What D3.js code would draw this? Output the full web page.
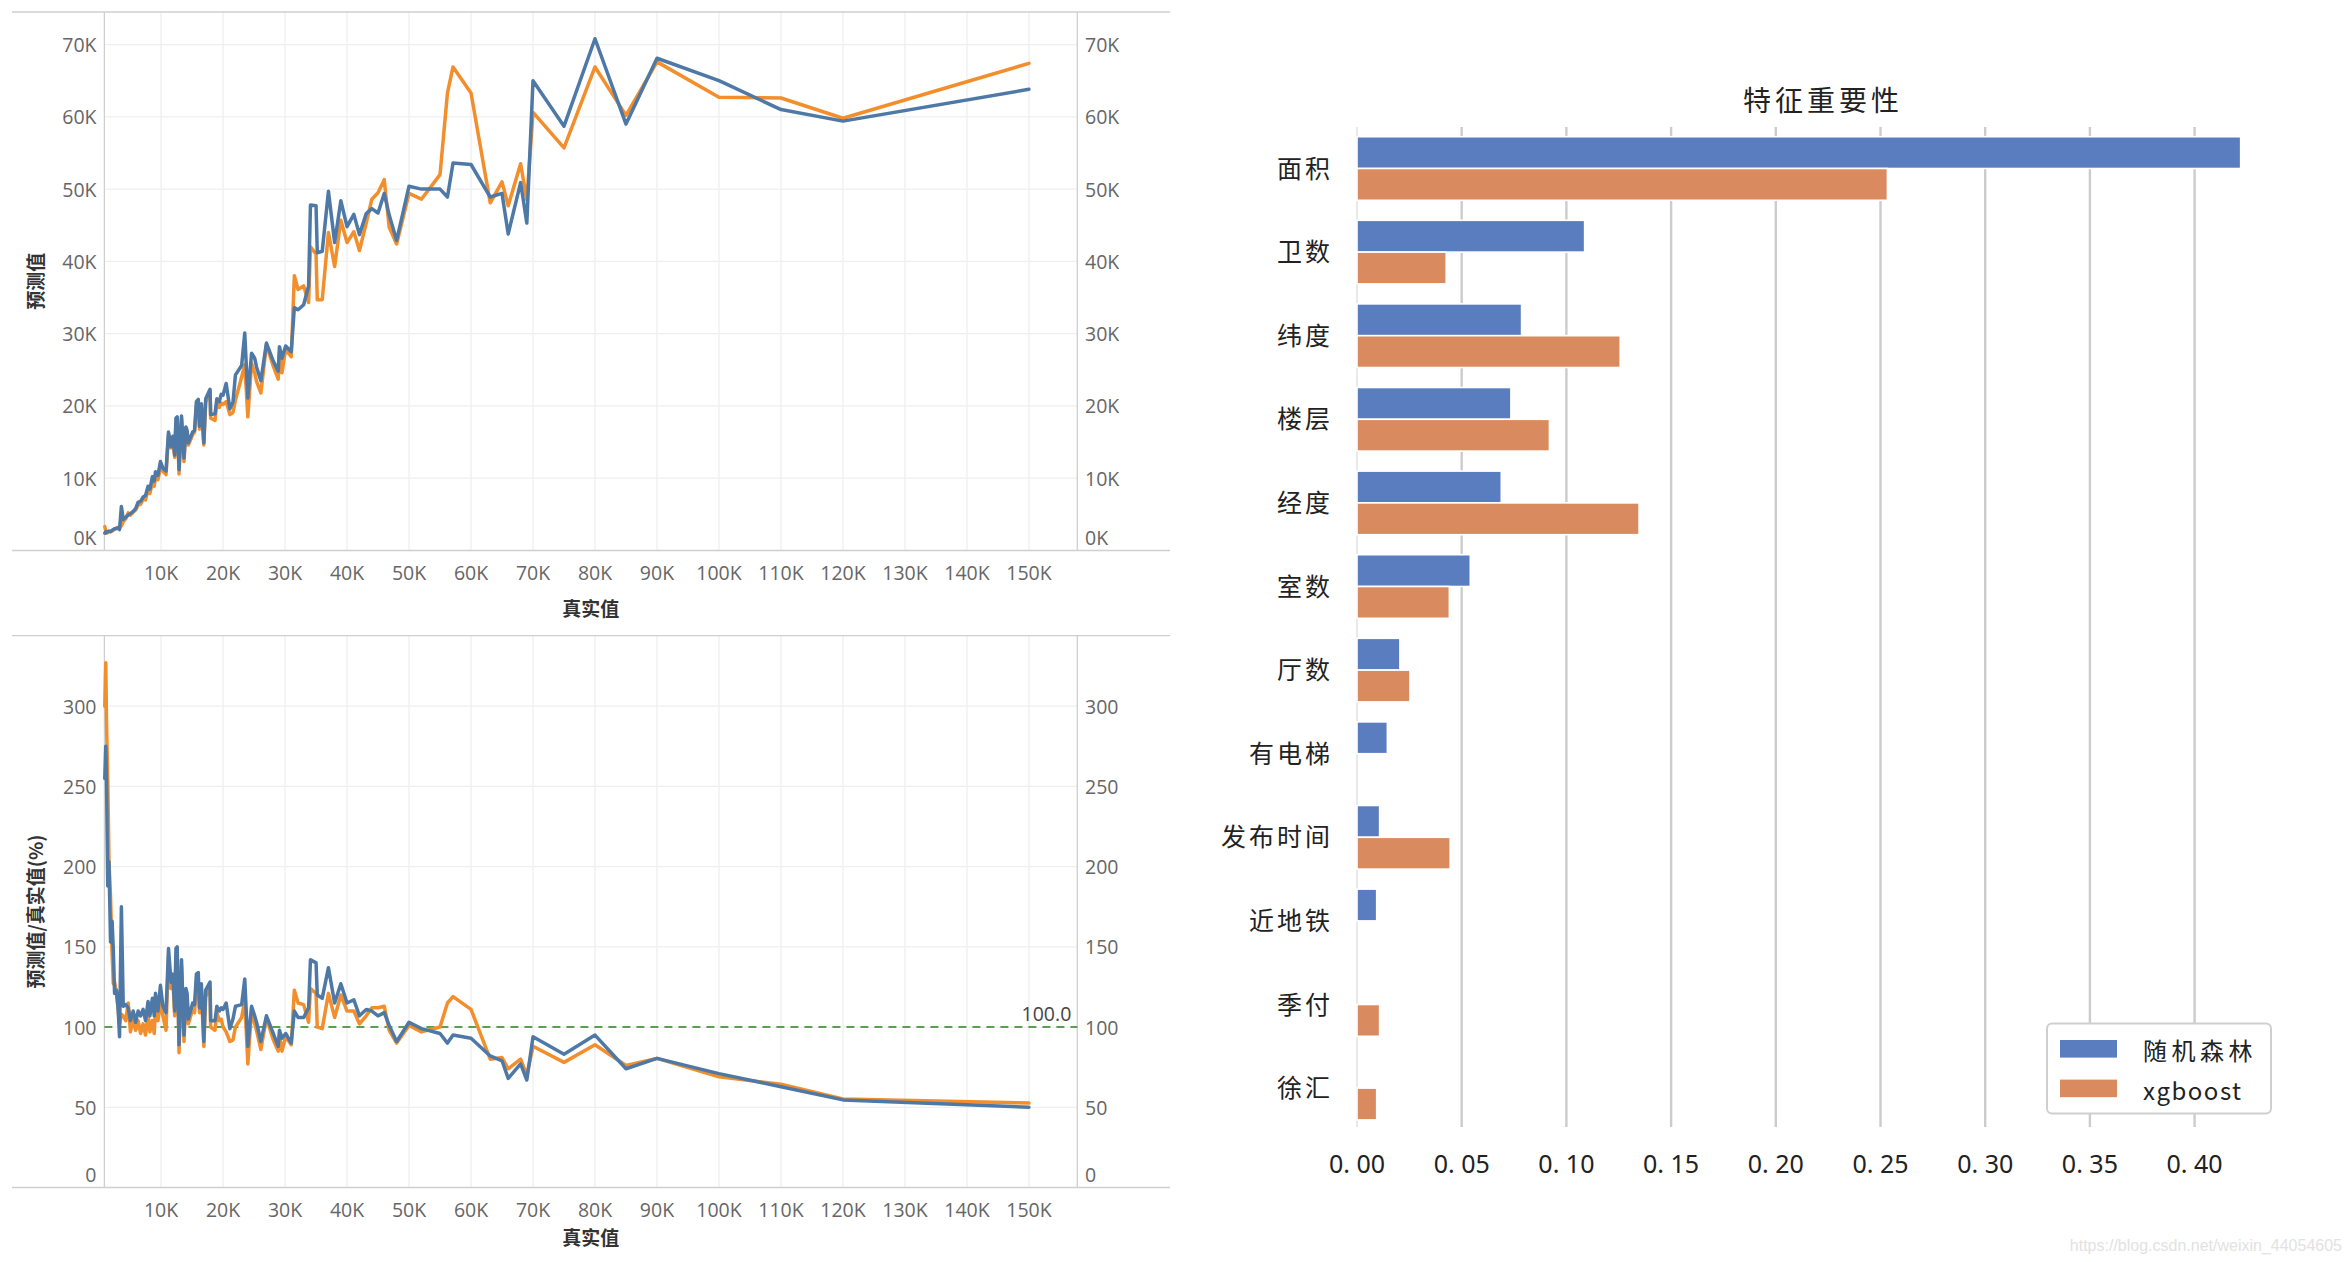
<!DOCTYPE html>
<html><head><meta charset="utf-8">
<script src="https://cdn.jsdelivr.net/npm/d3@7"></script>
<style>body{margin:0;background:#fff}svg{display:block}</style>
</head><body>
<svg id="c" width="2349" height="1262"></svg>
<script>
// ---------- data: line charts (actual value in K) ----------
const actualK = [0.92,1.08,1.2,1.4,1.6,1.85,2.1,2.3,2.5,2.8,3.07,3.3,3.6,3.9,4.3,4.7,5.06,5.5,5.9,6.3,6.7,7.1,7.5,7.9,8.2,8.6,8.9,9.1,9.5,9.9,10.3,10.8,11.2,11.6,11.9,12.2,12.4,12.6,12.9,13.3,13.7,14.0,14.2,14.4,15.1,15.4,15.7,16.0,16.2,16.5,16.9,17.2,17.9,18.0,18.7,19.0,19.4,19.7,20.0,20.5,21.1,21.6,22.0,23.0,23.5,24.0,24.6,25.1,25.4,26.1,27.0,28.1,28.9,29.1,29.5,30.1,31.0,31.5,32.1,33.0,33.8,34.1,35.0,35.2,36.0,37.0,38.0,39.0,40.0,41.1,42.0,43.1,44.0,45.0,46.0,46.8,48.0,50.0,52.0,55.0,56.2,57.1,60.0,63.1,65.0,66.0,68.0,69.0,70.0,75.0,80.0,85.0,90.0,100,110,120,150];
const predRF = [2.4,2.6,2.5,2.6,2.7,2.6,2.8,2.9,3.0,3.1,3.1,2.9,6.1,4.3,4.6,4.9,5.1,5.4,5.8,6.7,6.8,7.4,7.6,8.9,8.5,10.2,9.6,10.9,10.4,12.3,11.4,11.0,16.4,14.4,15.8,13.2,18.3,18.5,11.2,18.6,12.8,17.1,16.6,14.9,16.4,16.6,20.6,20.9,17.2,20.3,14.9,21.0,22.3,18.8,18.9,21.0,20.6,21.6,21.5,23.1,19.6,20.5,24.3,25.6,30.1,21.1,27.3,26.6,25.4,23.5,28.7,26.2,24.8,28.2,26.6,28.3,27.5,33.6,33.3,34.0,36.6,47.8,47.7,41.2,41.4,49.7,42.6,48.4,44.8,46.5,43.7,46.6,47.3,46.7,49.4,46.4,42.9,50.4,50.0,50.0,48.9,53.6,53.4,48.9,49.4,43.8,50.9,45.3,65.0,58.7,70.8,59.0,68.1,65.0,61.0,59.4,63.8];
const predXGB = [3.3,2.8,2.4,2.5,2.6,2.6,2.7,2.8,3.0,3.0,3.2,3.1,3.4,4.0,4.4,5.2,4.9,5.3,5.6,6.3,6.4,7.1,7.0,8.4,7.9,9.4,8.9,10.1,9.8,11.5,11.0,10.5,16.0,14.2,15.4,12.9,17.8,18.2,10.6,18.2,12.3,16.8,16.4,14.6,16.0,16.4,20.0,20.3,16.8,19.9,14.6,20.5,22.0,18.3,18.0,20.4,19.8,20.4,20.2,20.6,18.8,19.1,20.8,24.0,25.7,18.5,25.9,24.6,23.4,21.8,28.5,25.5,23.7,27.3,24.6,27.8,26.8,38.0,36.1,36.6,34.3,42.0,41.0,34.7,34.7,44.0,39.3,45.7,42.6,44.1,41.5,45.3,48.6,49.5,51.3,44.7,42.4,49.4,48.6,52.0,63.3,66.9,63.3,48.1,51.0,47.7,53.5,48.5,60.6,55.7,66.9,60.2,67.6,62.7,62.6,59.8,67.4];
const ratioRF = [255,275,254,188,203,153,166,148,121,123,112,94,175,113,114,112,104,110,103,110,107,111,104,116,107,118,107,121,110,126,113,109,149,128,133,110,149,150,89,142,95,124,121,105,115,114,133,134,112,127,91,123,128,104,104,113,110,112,111,115,99,105,113,114,130,88,113,107,103,91,107,96,88,98,93,96,90,110,106,106,112,142,140,120,118,137,115,127,115,117,107,111,110,107,109,101,91,103,99,96,90,95,93,82,79,68,77,67,94,83,95,74,80.5,71,62.8,54.6,50.0];
const ratioXGB = [300,327,290,254,203,181,146,127,128,121,111,102,108,107,104,115,97,104,98,104,96,102,95,108,97,104,96,111,104,115,107,98,144,124,130,107,144,146,84,138,91,121,118,102,111,109,127,129,109,123,88,119,124,100,98,109,104,105,100,97,91,92,100,106,117,77,111,102,98,86,106,92,85,95,85,94,89,123,115,114,103,124,121,100,99,121,106,120,110,110,102,107,112,112,113,98,90,101,97,100,115,119,111,80,81,74,80,70,88,78,89,76,80.5,69,64.4,55.2,52.6];
const xTicksK = [10,20,30,40,50,60,70,80,90,100,110,120,130,140,150];
const predTicksK = [0,10,20,30,40,50,60,70];
const ratioTicks = [0,50,100,150,200,250,300];
const refValue = 100;

// ---------- data: feature importance ----------
const features = ["面积","卫数","纬度","楼层","经度","室数","厅数","有电梯","发布时间","近地铁","季付","徐汇"];
const impRF  = [0.422,0.1087,0.0786,0.0735,0.0689,0.0541,0.0205,0.0145,0.0108,0.0094,0,0];
const impXGB = [0.2533,0.0426,0.1257,0.0919,0.1347,0.0441,0.0253,0,0.0445,0,0.0108,0.0094];
const impTicks = [0,0.05,0.10,0.15,0.20,0.25,0.30,0.35,0.40];
const seriesNames = ["随机森林","xgboost"];

const svg = d3.select("#c");
const BLUE = "#4e79a7", ORANGE = "#f28e2b";
const tickFont = "'Open Sans', 'DejaVu Sans', sans-serif";
const cjk = "'Noto Sans CJK SC', sans-serif";
const TFS = 19.5;

const x = d3.scaleLinear().domain([0.86, 157.8]).range([104.4, 1077.3]);
const L = 104.4, R = 1077.3, FL = 12, FR = 1170;

function panel(cfg) {
  const g = svg.append("g");
  const y = d3.scaleLinear().domain(cfg.yDomain).range([cfg.bottom, cfg.top]);
  g.selectAll(".vg").data(xTicksK).join("line")
    .attr("x1", d => x(d)).attr("x2", d => x(d)).attr("y1", cfg.top).attr("y2", cfg.bottom)
    .attr("stroke", "#efefef").attr("stroke-width", 1.3);
  g.selectAll(".hg").data(cfg.yTicks.filter(d => d > 0)).join("line")
    .attr("x1", L).attr("x2", R).attr("y1", d => y(d)).attr("y2", d => y(d))
    .attr("stroke", "#efefef").attr("stroke-width", 1.3);
  g.append("line").attr("x1", FL).attr("x2", FR).attr("y1", cfg.top).attr("y2", cfg.top).attr("stroke", "#cfcfcf").attr("stroke-width", 1.3);
  g.append("line").attr("x1", FL).attr("x2", FR).attr("y1", cfg.bottom).attr("y2", cfg.bottom).attr("stroke", "#cfcfcf").attr("stroke-width", 1.3);
  [L, R].forEach(xx => g.append("line").attr("x1", xx).attr("x2", xx).attr("y1", cfg.top).attr("y2", cfg.bottom).attr("stroke", "#cfcfcf").attr("stroke-width", 1.3));
  if (cfg.ref !== undefined) {
    g.append("line").attr("x1", L).attr("x2", R).attr("y1", y(cfg.ref)).attr("y2", y(cfg.ref))
      .attr("stroke", "#59a14f").attr("stroke-width", 2).attr("stroke-dasharray", "8,6");
    g.append("text").attr("x", R - 6).attr("y", y(cfg.ref) - 14).attr("text-anchor", "end")
      .attr("dominant-baseline", "central").attr("font-family", tickFont).attr("font-size", TFS)
      .attr("fill", "#444").text(d3.format(".1f")(cfg.ref));
  }
  const line = vals => d3.line().x((d, i) => x(actualK[i])).y(d => y(d))(vals);
  g.append("path").attr("d", line(cfg.xgb)).attr("fill", "none").attr("stroke", ORANGE)
    .attr("stroke-width", 3.5).attr("stroke-linejoin", "round").attr("stroke-linecap", "round");
  g.append("path").attr("d", line(cfg.rf)).attr("fill", "none").attr("stroke", BLUE)
    .attr("stroke-width", 3.5).attr("stroke-linejoin", "round").attr("stroke-linecap", "round");
  const ly = d => Math.min(y(d), cfg.bottom - 13);
  g.selectAll(".yl").data(cfg.yTicks).join("text")
    .attr("x", 96.5).attr("y", ly).attr("text-anchor", "end").attr("dominant-baseline", "central")
    .attr("font-family", tickFont).attr("font-size", TFS).attr("fill", "#666").text(cfg.fmt);
  g.selectAll(".yr").data(cfg.yTicks).join("text")
    .attr("x", 1085).attr("y", ly).attr("text-anchor", "start").attr("dominant-baseline", "central")
    .attr("font-family", tickFont).attr("font-size", TFS).attr("fill", "#666").text(cfg.fmt);
  g.selectAll(".xl").data(xTicksK).join("text")
    .attr("x", d => x(d)).attr("y", cfg.xLabelY).attr("text-anchor", "middle").attr("dominant-baseline", "central")
    .attr("font-family", tickFont).attr("font-size", TFS).attr("fill", "#666").text(d => d + "K");
  g.append("text").attr("x", (L + R) / 2).attr("y", cfg.xTitleY).attr("text-anchor", "middle")
    .attr("dominant-baseline", "central").attr("font-family", cjk).attr("font-weight", "bold")
    .attr("font-size", 19).attr("fill", "#333").text("真实值");
  g.append("text").attr("transform", `translate(34,${(cfg.top + cfg.bottom) / 2}) rotate(-90)`)
    .attr("text-anchor", "middle").attr("dominant-baseline", "central").attr("font-family", cjk)
    .attr("font-weight", "bold").attr("font-size", 19).attr("fill", "#333").text(cfg.yTitle);
}

panel({ yDomain: [0, 74.5], top: 12, bottom: 550.5, yTicks: predTicksK, fmt: d => d + "K",
  rf: predRF, xgb: predXGB, yTitle: "预测值", xLabelY: 572, xTitleY: 607 });
panel({ yDomain: [0, 344], top: 635.6, bottom: 1187.5, yTicks: ratioTicks, fmt: d => d,
  rf: ratioRF, xgb: ratioXGB, yTitle: "预测值/真实值(%)", xLabelY: 1209.5, xTitleY: 1236, ref: refValue });

// ---------- feature importance bar chart ----------
const bx = d3.scaleLinear().domain([0, 0.40]).range([1357, 2194.6]);
const by = d3.scaleBand().domain(features).range([126.7, 1129.9]);
const bg = svg.append("g");
bg.selectAll(".bgl").data(impTicks).join("line")
  .attr("x1", d => bx(d)).attr("x2", d => bx(d)).attr("y1", 127).attr("y2", 1127)
  .attr("stroke", d => d === 0 ? "#dedede" : "#cccccc").attr("stroke-width", d => d === 0 ? 1.3 : 2.4);
const bh = 31.8;
bg.selectAll(".rf").data(features).join("rect")
  .attr("x", bx(0)).attr("y", d => by(d) + by.bandwidth() / 2 - bh)
  .attr("width", (d, i) => bx(impRF[i]) - bx(0)).attr("height", bh)
  .attr("fill", "#5a7dbf").attr("stroke", "#fff").attr("stroke-width", 1.6)
  .attr("display", (d, i) => impRF[i] > 0 ? null : "none");
bg.selectAll(".xgb").data(features).join("rect")
  .attr("x", bx(0)).attr("y", d => by(d) + by.bandwidth() / 2)
  .attr("width", (d, i) => bx(impXGB[i]) - bx(0)).attr("height", bh)
  .attr("fill", "#d98a5f").attr("stroke", "#fff").attr("stroke-width", 1.6)
  .attr("display", (d, i) => impXGB[i] > 0 ? null : "none");
bg.selectAll(".fl").data(features).join("text")
  .attr("x", 1333).attr("y", d => by(d) + by.bandwidth() / 2 - 2).attr("text-anchor", "end")
  .attr("dominant-baseline", "central").attr("font-family", cjk).attr("font-size", 25)
  .attr("letter-spacing", 3).attr("fill", "#222").text(d => d);
bg.selectAll(".bt").data(impTicks).join("text")
  .attr("x", d => bx(d)).attr("y", 1163).attr("text-anchor", "middle").attr("dominant-baseline", "central")
  .attr("font-family", "'Noto Sans', sans-serif").attr("font-size", 25).attr("fill", "#222")
  .text(d => d3.format(".2f")(d).replace(".", ". "));
bg.append("text").attr("x", 1823).attr("y", 99).attr("text-anchor", "middle").attr("dominant-baseline", "central")
  .attr("font-family", cjk).attr("font-size", 28).attr("letter-spacing", 4).attr("fill", "#222").text("特征重要性");
const lg = bg.append("g");
lg.append("rect").attr("x", 2047).attr("y", 1023.5).attr("width", 224).attr("height", 90).attr("rx", 5)
  .attr("fill", "#fff").attr("stroke", "#cfcfcf").attr("stroke-width", 2);
const legColors = ["#5a7dbf", "#d98a5f"];
seriesNames.forEach((n, i) => {
  lg.append("rect").attr("x", 2060).attr("y", 1040 + i * 39.6).attr("width", 57).attr("height", 17.6).attr("fill", legColors[i]);
  lg.append("text").attr("x", 2143).attr("y", 1049 + i * 40).attr("dominant-baseline", "central")
    .attr("font-family", cjk).attr("font-size", 24).attr("letter-spacing", i === 0 ? 4.5 : 1.5)
    .attr("fill", "#222").text(n);
});
svg.append("text").attr("x", 2342).attr("y", 1245).attr("text-anchor", "end").attr("dominant-baseline", "central")
  .attr("font-family", "'Liberation Sans', sans-serif").attr("font-size", 16).attr("fill", "#e2e2e2")
  .text("https://blog.csdn.net/weixin_44054605");
</script>
</body></html>
